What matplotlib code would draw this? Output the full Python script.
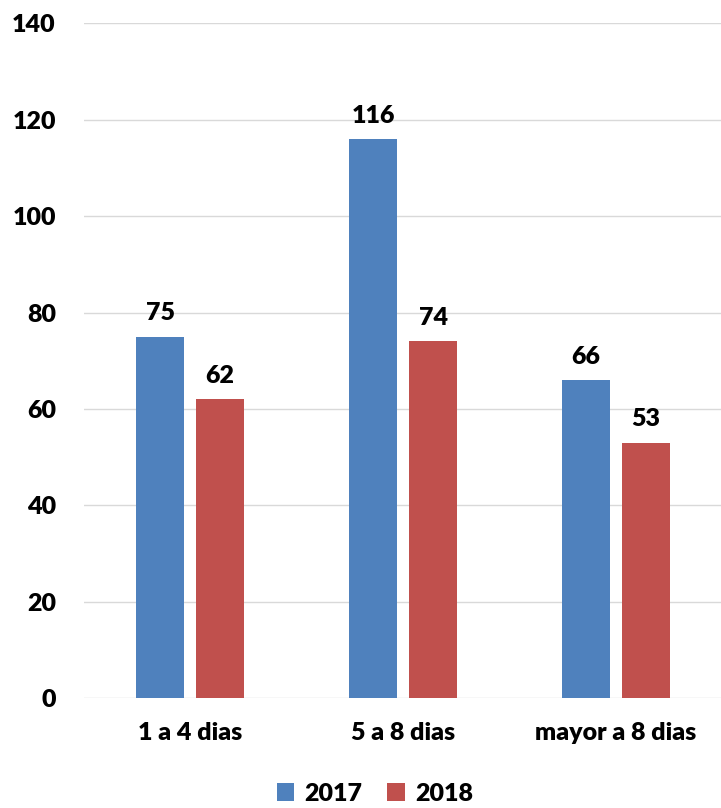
import matplotlib
matplotlib.use("Agg")
import matplotlib.pyplot as plt
import numpy as np

categories = ["1 a 4 dias", "5 a 8 dias", "mayor a 8 dias"]
series_names = ["2017", "2018"]
values_2017 = [75, 116, 66]
values_2018 = [62, 74, 53]
yticks = [0, 20, 40, 60, 80, 100, 120, 140]

plt.rcParams['font.family'] = ['Lato', 'DejaVu Sans']
plt.rcParams['font.weight'] = 'heavy'

fig = plt.figure(figsize=(7.21, 8.08), dpi=100)
ax = fig.add_axes([0.116, 0.136, 0.886, 0.835])

FS = 18
x = np.arange(len(categories))
w = 0.225
off = 0.141
c1, c2 = "#4F81BD", "#C0504D"
b1 = ax.bar(x - off, values_2017, w, color=c1, label=series_names[0], zorder=3)
b2 = ax.bar(x + off, values_2018, w, color=c2, label=series_names[1], zorder=3)

for bars, vals in ((b1, values_2017), (b2, values_2018)):
    for r, v in zip(bars, vals):
        ax.annotate(str(v), (r.get_x() + r.get_width() / 2, v), xytext=(0, 9),
                    textcoords="offset points", ha="center", va="bottom",
                    fontsize=FS, fontweight="heavy")

ax.set_xlim(-0.5, 2.5)
ax.set_ylim(0, 140)
ax.set_yticks(yticks)
ax.set_yticklabels([str(t) for t in yticks], fontsize=FS, fontweight="heavy")
ax.set_xticks(x)
ax.set_xticklabels(categories, fontsize=FS, fontweight="heavy")
ax.tick_params(axis='y', length=0, pad=20)
ax.tick_params(axis='x', length=0, pad=17)
ax.grid(axis='y', color="#D9D9D9", linewidth=1, zorder=0)
for s in ax.spines.values():
    s.set_visible(False)

fig.legend(handles=[b1, b2], labels=series_names, loc="lower center",
           bbox_to_anchor=(0.52, -0.024), ncol=2, frameon=False,
           prop={'size': FS, 'weight': 'heavy'}, handlelength=0.7,
           handleheight=0.7, columnspacing=1.0, handletextpad=0.4)

fig.savefig("out.png", dpi=100)
